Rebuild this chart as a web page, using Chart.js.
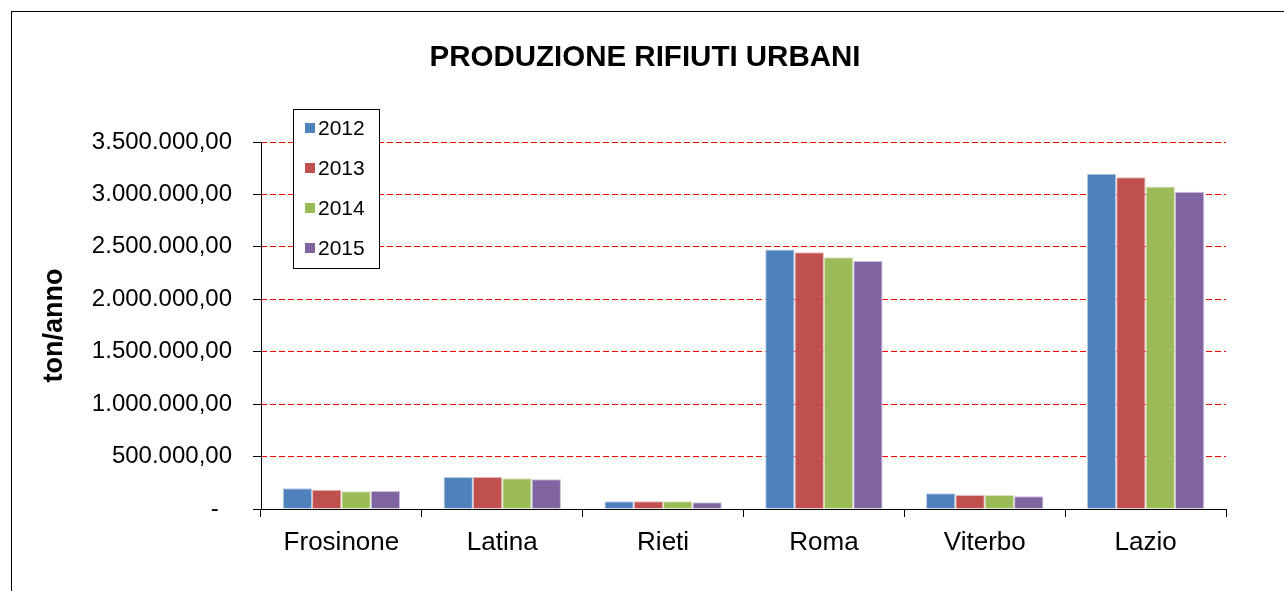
<!DOCTYPE html>
<html>
<head>
<meta charset="utf-8">
<script src="https://cdn.jsdelivr.net/npm/chart.js@4.4.1/dist/chart.umd.min.js"></script>
<style>
  html, body { margin: 0; padding: 0; background: #fff; }
  canvas { display: block; }
</style>
</head>
<body>
<canvas id="rifiuti" width="1284" height="591"></canvas>
<script>
// dati (ton/anno)
const province = ['Frosinone', 'Latina', 'Rieti', 'Roma', 'Viterbo', 'Lazio'];
const anni = ['2012', '2013', '2014', '2015'];
const v2012 = [197000, 305000, 73000, 2474000, 150000, 3197000];
const v2013 = [184000, 305000, 73000, 2449000, 134000, 3165000];
const v2014 = [170000, 293000, 73000, 2402000, 134000, 3075000];
const v2015 = [171000, 283000, 65000, 2366000, 121000, 3025000];
const colori = ['#4F81BD', '#C0504D', '#9BBB59', '#8064A2'];
const bordi = ['#B9CDE5', '#E6B9B8', '#D7E4BD', '#CCC1DA'];

Chart.defaults.font.family = '"Liberation Sans", Arial, sans-serif';
Chart.defaults.color = '#000';

function formatta(v) {
    if (v === 0) return '-  ';
    const intero = Math.round(v).toString().replace(/\B(?=(\d{3})+(?!\d))/g, '.');
    return intero + ',00';
}

// cornice, titolo, asse verticale e legenda come nel foglio Excel
const decorazioni = {
    id: 'decorazioni',
    beforeDraw(chart) {
        const ctx = chart.ctx;
        ctx.save();
        ctx.fillStyle = '#fff';
        ctx.fillRect(0, 0, chart.width, chart.height);
        ctx.strokeStyle = '#000';
        ctx.lineWidth = 1;
        ctx.strokeRect(11.5, 11.5, 1400, 800);
        ctx.fillStyle = '#000';
        ctx.font = 'bold 29.5px "Liberation Sans", Arial, sans-serif';
        ctx.textAlign = 'center';
        ctx.textBaseline = 'middle';
        ctx.fillText('PRODUZIONE RIFIUTI URBANI', 645, 58);
        ctx.restore();
    },
    afterDatasetsDraw(chart) {
        const ctx = chart.ctx;
        const y = chart.scales.y;
        ctx.save();
        // linea dell'asse y continua
        ctx.strokeStyle = '#000';
        ctx.lineWidth = 1;
        ctx.beginPath();
        ctx.moveTo(Math.round(y.right) + 0.5, y.top);
        ctx.lineTo(Math.round(y.right) + 0.5, y.bottom);
        ctx.stroke();

        ctx.fillStyle = '#fff';
        ctx.fillRect(293, 109, 86, 159);
        ctx.strokeRect(293.5, 109.5, 86, 159);
        ctx.font = '21px "Liberation Sans", Arial, sans-serif';
        ctx.textBaseline = 'middle';
        ctx.textAlign = 'left';
        chart.data.datasets.forEach(function (ds, i) {
            const yy = 128 + i * 40;
            ctx.fillStyle = ds.backgroundColor;
            ctx.fillRect(305, yy - 5, 10, 10);
            ctx.fillStyle = '#000';
            ctx.fillText(ds.label, 318, yy + 1);
        });
        ctx.restore();
    }
};

const ctx = document.getElementById('rifiuti').getContext('2d');
new Chart(ctx, {
    type: 'bar',
    data: {
        labels: province,
        datasets: [
            { label: anni[0], data: v2012, backgroundColor: colori[0], borderColor: bordi[0] },
            { label: anni[1], data: v2013, backgroundColor: colori[1], borderColor: bordi[1] },
            { label: anni[2], data: v2014, backgroundColor: colori[2], borderColor: bordi[2] },
            { label: anni[3], data: v2015, backgroundColor: colori[3], borderColor: bordi[3] }
        ]
    },
    options: {
        responsive: false,
        animation: false,
        layout: { padding: { left: 38, top: 142, right: 58, bottom: 0 } },
        datasets: {
            bar: { categoryPercentage: 0.73, barPercentage: 1, borderWidth: 1 }
        },
        plugins: {
            legend: { display: false },
            tooltip: { enabled: false },
            title: { display: false }
        },
        scales: {
            x: {
                afterFit: function (scale) { scale.height = 82; },
                grid: {
                    offset: true,
                    drawOnChartArea: false,
                    tickLength: 8,
                    tickColor: '#000'
                },
                border: { color: '#000', width: 1 },
                ticks: { font: { size: 26 }, color: '#000', padding: 10 }
            },
            y: {
                min: 0,
                max: 3500000,
                afterFit: function (scale) { scale.width = 223; },
                grid: {
                    color: function (c) { return c.tick && c.tick.value === 0 ? 'rgba(0,0,0,0)' : '#FF0000'; },
                    tickColor: '#000',
                    tickLength: 8,
                    tickBorderDash: []
                },
                border: { display: false, dash: [6, 3] },
                ticks: {
                    stepSize: 500000,
                    padding: 21,
                    font: { size: 24 },
                    color: '#000',
                    callback: function (v) { return formatta(v); }
                },
                title: {
                    display: true,
                    text: 'ton/anno',
                    font: { size: 27, weight: 'bold' },
                    color: '#000',
                    padding: 0
                }
            }
        }
    },
    plugins: [decorazioni]
});
</script>
</body>
</html>
